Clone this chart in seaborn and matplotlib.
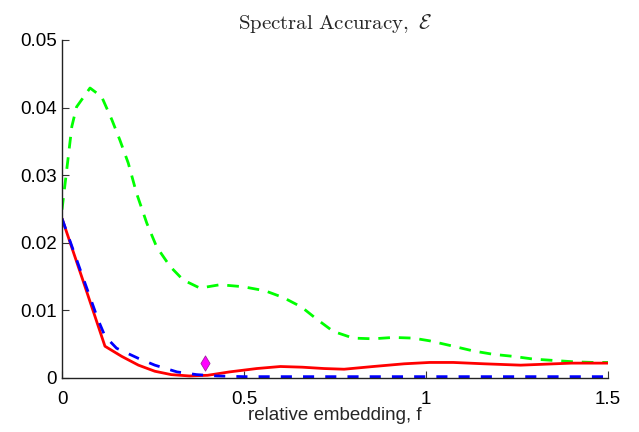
import matplotlib
matplotlib.use("Agg")
import matplotlib.pyplot as plt
import seaborn as sns
import pandas as pd

# Green dashed series
green_f = [0.0, 0.013, 0.027, 0.040, 0.077, 0.109, 0.137, 0.159, 0.182, 0.205, 0.233,
           0.260, 0.297, 0.333, 0.379, 0.434, 0.498, 0.558, 0.608, 0.658, 0.70, 0.745,
           0.80, 0.855, 0.91, 0.965, 1.01, 1.075, 1.13, 1.185, 1.24, 1.295, 1.35, 1.405,
           1.46, 1.5]
green_v = [0.0249, 0.0308, 0.0372, 0.0401, 0.0429, 0.0416, 0.0382, 0.0352, 0.0318,
           0.0273, 0.0229, 0.0194, 0.0165, 0.0145, 0.0133, 0.0138, 0.0135, 0.0129,
           0.0119, 0.0105, 0.0087, 0.0069, 0.0059, 0.0058, 0.0060, 0.0059, 0.0055,
           0.0047, 0.0040, 0.0035, 0.0032, 0.0028, 0.0026, 0.0024, 0.0023, 0.0023]

# Red solid series
red_f = [0.0, 0.059, 0.118, 0.164, 0.21, 0.255, 0.30, 0.35, 0.40, 0.46, 0.535, 0.60,
         0.66, 0.72, 0.775, 0.855, 0.94, 1.01, 1.075, 1.16, 1.26, 1.40, 1.5]
red_v = [0.0236, 0.0142, 0.0047, 0.0032, 0.0019, 0.0010, 0.0005, 0.0003, 0.0004,
         0.0009, 0.0014, 0.0017, 0.0016, 0.0014, 0.0013, 0.0017, 0.0021, 0.0023,
         0.0023, 0.0021, 0.0019, 0.0022, 0.0022]

# Blue dashed series
blue_f = [0.0, 0.06, 0.10, 0.118, 0.15, 0.21, 0.255, 0.316, 0.37, 0.425, 0.5, 0.7,
          1.0, 1.5]
blue_v = [0.0236, 0.0145, 0.0085, 0.0062, 0.0044, 0.0029, 0.0019, 0.0009, 0.0005,
          0.0003, 0.0002, 0.0002, 0.0002, 0.0002]

# Marker point
pt_f = [0.393]
pt_v = [0.0022]

x_ticks = [0, 0.5, 1, 1.5]
x_tick_labels = ["0", "0.5", "1", "1.5"]
y_ticks = [0, 0.01, 0.02, 0.03, 0.04, 0.05]
y_tick_labels = ["0", "0.01", "0.02", "0.03", "0.04", "0.05"]

sns.set_style("ticks")
plt.rcParams["font.family"] = ["Liberation Sans", "DejaVu Sans"]
plt.rcParams["mathtext.fontset"] = "cm"

fig = plt.figure(figsize=(6.39, 4.32), dpi=100)
ax = fig.add_axes([62 / 639, 54 / 432, 546 / 639, 338 / 432])

df_g = pd.DataFrame({"f": green_f, "v": green_v})
df_r = pd.DataFrame({"f": red_f, "v": red_v})
df_b = pd.DataFrame({"f": blue_f, "v": blue_v})

sns.lineplot(data=df_g, x="f", y="v", ax=ax, color=(0, 1, 0), lw=2.0,
             sort=False, dashes=False)
ax.lines[-1].set_dashes((4.2, 3.2))
sns.lineplot(data=df_r, x="f", y="v", ax=ax, color=(1, 0, 0), lw=2.0, sort=False)
sns.lineplot(data=df_b, x="f", y="v", ax=ax, color=(0, 0, 1), lw=2.0, sort=False)
ax.lines[-1].set_dashes((4, 4))
sns.scatterplot(x=pt_f, y=pt_v, ax=ax, marker="d", s=60, color="#ff00ff",
                edgecolor="#a020a0", linewidth=0.6, zorder=5)

ax.set_xlim(0, 1.5)
ax.set_ylim(0, 0.05)
ax.set_xticks(x_ticks)
ax.set_xticklabels(x_tick_labels)
ax.set_yticks(y_ticks)
ax.set_yticklabels(y_tick_labels)
ax.tick_params(direction="in", length=5, width=0.8, labelsize=13.5, colors="#333333",
               labelcolor="black")
ax.tick_params(axis="x", pad=9)
sns.despine(ax=ax)
for s in ["left", "bottom"]:
    ax.spines[s].set_linewidth(1.0)
    ax.spines[s].set_color("#222222")

ax.set_xlabel("relative embedding, f", fontsize=13.5, labelpad=0)
ax.set_ylabel("")
ax.set_title(r"$\mathrm{Spectral\ Accuracy,}\ \mathcal{E}$", fontsize=15, pad=8)

fig.savefig("out.png", dpi=100)
